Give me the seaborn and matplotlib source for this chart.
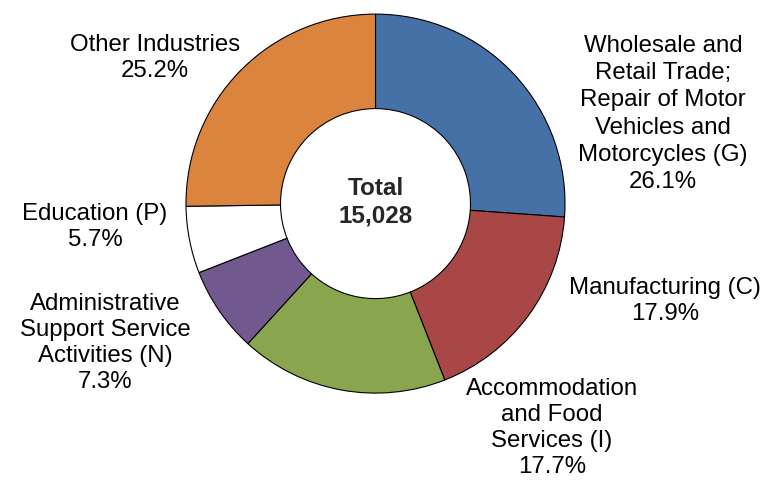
import matplotlib
matplotlib.use("Agg")
import matplotlib.pyplot as plt
import seaborn as sns

# data
industries = ["Wholesale and\nRetail Trade;\nRepair of Motor\nVehicles and\nMotorcycles (G)",
              "Manufacturing (C)",
              "Accommodation\nand Food\nServices (I)",
              "Administrative\nSupport Service\nActivities (N)",
              "Education (P)",
              "Other Industries"]
shares = [26.1, 17.9, 17.7, 7.3, 5.7, 25.2]
total = 15028

colors = ["#4571A7", "#A84745", "#89A54E", "#71588F", "#FFFFFF", "#DB843D"]

# label centres in pixels (x, y from top)
label_pos = [(663, 114), (665, 301), (552, 428), (105, 343), (95, 227), (155, 58)]

sns.set_theme(style="white")
plt.rcParams['font.family'] = ['Liberation Sans', 'DejaVu Sans']

fig = plt.figure(figsize=(7.65, 4.8), dpi=100)
ax = fig.add_axes([0, 0, 1, 1])

ax.pie(shares, colors=colors, startangle=90, counterclock=False,
       center=(375.5, 480 - 203.6), radius=189.5,
       wedgeprops=dict(width=94.5, edgecolor="black", linewidth=0.8))
ax.set_xlim(0, 765)
ax.set_ylim(0, 480)
ax.set_aspect("equal")
ax.axis("off")

for i, (name, val, (x, y)) in enumerate(zip(industries, shares, label_pos)):
    ax.text(x, 480 - y, f"{name}\n{val:.1f}%", ha="center", va="center",
            fontsize=17.3, linespacing=1.3 if i == 0 else 1.24, color="black")

ax.text(376, 480 - 202, f"Total\n{total:,}", ha="center", va="center",
        fontsize=17.5, fontweight="bold", linespacing=1.25)

fig.savefig("out.png", dpi=100)
